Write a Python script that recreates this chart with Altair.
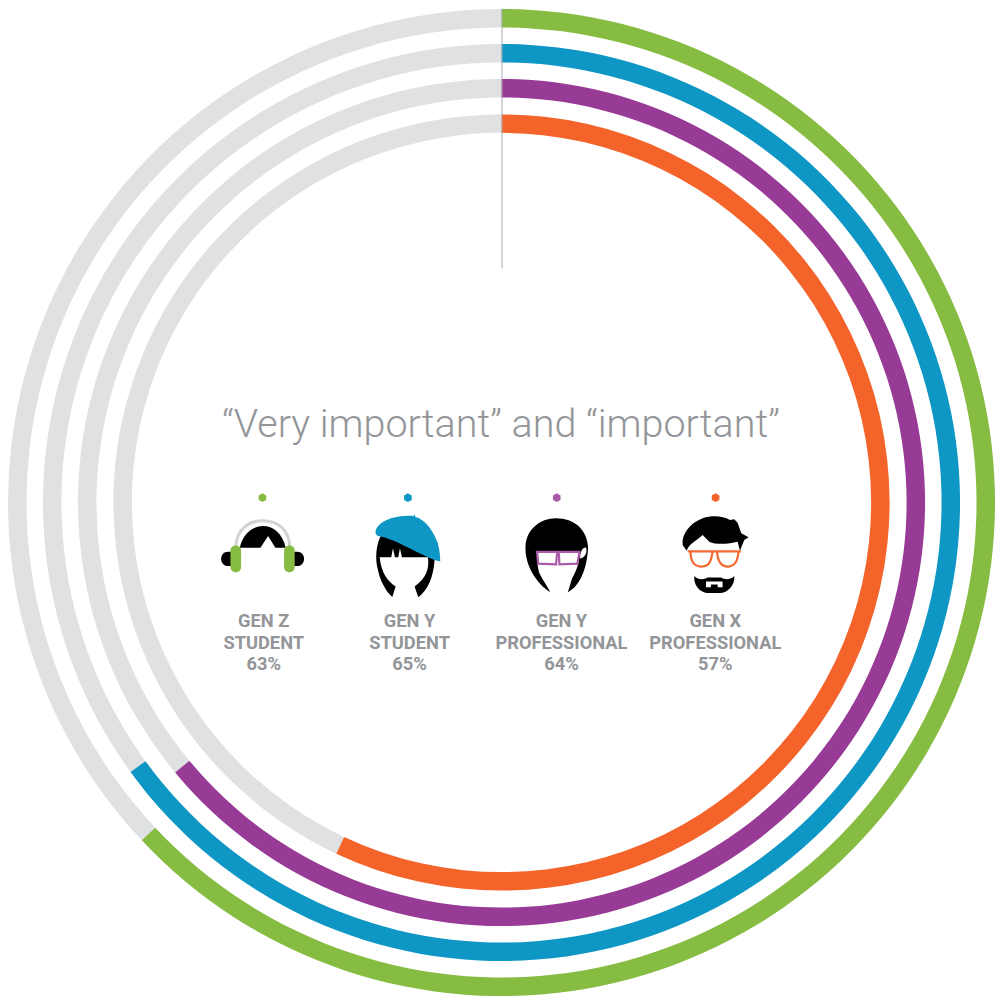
import math
import re
import altair as alt
import pandas as pd

# ---- data ----
groups = ["GEN Z", "GEN Y", "GEN Y", "GEN X"]
roles = ["STUDENT", "STUDENT", "PROFESSIONAL", "PROFESSIONAL"]
shares = [63, 65, 64, 57]
colors = ["#86BC42", "#0E97C4", "#983B96", "#F4632A"]
title_text = "\u201cVery important\u201d and \u201cimportant\u201d"

# ---- layout ----
W, H = 988, 988
MARGIN = 8
CX, CY = 502 - MARGIN, 502.5 - MARGIN
TRACK = "#E0E1E3"
TEXT = "#939598"
outer_radii = [494, 459, 424, 388.5]
RING = 18.5
col_x = [264, 410, 562, 716]
dot_x = [262.7, 408.3, 557.3, 716.3]

theta_scale = alt.Scale(domain=[0, 100], range=[0, 2 * math.pi])
layers = []

for share, color, r in zip(shares, colors, outer_radii):
    df = pd.DataFrame({"start": [share, 0], "end": [100, share], "part": ["rest", "share"]})
    layers.append(
        alt.Chart(df)
        .mark_arc(radius=r, radius2=r - RING, stroke=None)
        .encode(
            x=alt.value(CX),
            y=alt.value(CY),
            theta=alt.Theta("start:Q", scale=theta_scale),
            theta2="end:Q",
            color=alt.Color("part:N", scale=alt.Scale(domain=["rest", "share"], range=[TRACK, color]), legend=None),
        )
    )

# thin start line
layers.append(
    alt.Chart(pd.DataFrame({"a": [0]}))
    .mark_rule(color="#ABADB0", strokeWidth=1)
    .encode(x=alt.value(CX + 0.5), y=alt.value(0), y2=alt.value(268 - MARGIN))
)

# title
layers.append(
    alt.Chart(pd.DataFrame({"t": [title_text]}))
    .mark_text(font="Roboto", fontWeight=300, fontSize=39.5, color=TEXT, align="center", baseline="alphabetic")
    .encode(x=alt.value(501.5 - MARGIN), y=alt.value(437 - MARGIN), text="t:N")
)

# labels
labels = pd.DataFrame({"g": groups, "r": roles, "p": [f"{s}%" for s in shares], "x": col_x})
xs = alt.Scale(domain=[0, W], range=[0, W])
for field, base in (("g", 627), ("r", 649), ("p", 670)):
    layers.append(
        alt.Chart(labels)
        .mark_text(font="Roboto", fontWeight=700, fontSize=18.3, color=TEXT, align="center", baseline="alphabetic")
        .encode(
            x=alt.X("xp:Q", scale=xs, axis=None),
            y=alt.value(base - MARGIN),
            text=f"{field}:N",
        )
        .transform_calculate(xp=f"datum.x - {MARGIN}")
    )


def shift(path, ox, oy):
    """Icon outlines are noted in 3x crop coordinates; turn them into plot pixels."""
    out, i = "", 0
    for tok in re.findall(r"[A-Za-z]|-?[\d.]+", path):
        if tok.isalpha():
            out = out.rstrip() + tok
        else:
            v = float(tok) / 3 + (ox if i % 2 == 0 else oy) - MARGIN
            out += f"{v:.2f} "
            i += 1
    return out.strip()


def icon(path, ox, oy, fill=None, stroke=None, sw=1.5):
    kw = dict(shape=shift(path, ox, oy), size=4, opacity=1)
    if fill:
        kw.update(filled=True, fill=fill, stroke=None)
    else:
        kw.update(filled=False, stroke=stroke, strokeWidth=sw)
    return alt.Chart(pd.DataFrame({"a": [0]})).mark_point(**kw).encode(x=alt.value(0.01), y=alt.value(0.01))


# hexagon markers, one per group
for c, x in zip(["#86BC42", "#0E97C4", "#A65CA9", "#F4632A"], dot_x):
    hexagon = "M0 -4.4 L3.8 -2.2 L3.8 2.2 L0 4.4 L-3.8 2.2 L-3.8 -2.2 Z"
    layers.append(
        alt.Chart(pd.DataFrame({"a": [0]}))
        .mark_point(shape=hexagon, size=4, filled=True, fill=c, stroke=None, opacity=1)
        .encode(x=alt.value(x - MARGIN), y=alt.value(497.7 - MARGIN))
    )

BLACK = "#000000"
# Gen Z: headphones
O1 = (210, 480)
layers += [
    icon("M55 215 C27 215 27 258 55 258 L78 258 L78 215 Z", *O1, fill=BLACK),
    icon("M262 215 C290 215 290 258 262 258 L240 258 L240 215 Z", *O1, fill=BLACK),
    icon("M90 203 C100 160 130 138 160 138 C190 138 218 160 228 203 L197 203 L175 168 L152 203 Z", *O1, fill=BLACK),
    icon("M78 200 C80 150 115 122 160 122 C205 122 238 150 240 200", *O1, stroke="#D1D3D4", sw=3),
    icon("M62 212 C62 191 94 191 94 212 L94 261 C94 282 62 282 62 261 Z", *O1, fill="#86BC42"),
    icon("M223 212 C223 191 255 191 255 212 L255 261 C255 282 223 282 223 261 Z", *O1, fill="#86BC42"),
]
# Gen Y student: beret
layers += [
    icon(
        "M515 165 C500 190 495 235 505 270 C512 305 530 335 548 351 L558 320 C535 305 515 280 510 232 "
        "L545 232 L550 205 L556 232 L566 232 L571 205 L577 232 L655 232 C660 265 650 295 615 320 L626 352 "
        "C655 330 672 290 675 240 L675 200 L640 170 Z",
        *O1, fill=BLACK,
    ),
    icon(
        "M498 152 C510 120 560 105 612 108 L614 102 L617 110 C650 120 672 155 685 190 C690 210 692 230 692 245 "
        "C670 240 640 225 600 205 C570 190 535 172 505 168 C498 165 497 158 498 152 Z",
        *O1, fill="#0E97C4",
    ),
]
# Gen Y professional
O2 = (490, 480)
layers += [
    icon(
        "M200 115 C150 115 110 150 108 200 C106 255 140 310 183 337 C172 318 160 300 150 280 "
        "C145 265 143 245 143 215 L268 215 C272 245 262 270 248 295 C243 310 240 325 235 337 "
        "C270 320 292 270 296 205 C295 150 255 115 200 115 Z",
        *O2, fill=BLACK,
    ),
    icon("M272 232 C272 215 280 202 290 203 C294 215 288 232 272 236 Z", *O2, fill="#FFFFFF"),
    icon(
        "M139 216 L273 216 M143 217 L146 251 L200 253 L203 217 M208 217 L210 253 L264 251 L270 217",
        *O2, stroke="#A95AA8", sw=2.2,
    ),
]
# Gen X professional
layers += [
    icon(
        "M580 195 C576 165 600 130 640 115 C670 105 700 108 722 120 L735 118 L745 128 L756 160 L778 172 L765 180 "
        "L752 212 L745 185 C720 192 680 195 660 185 L640 165 C625 180 600 190 592 212 Z",
        *O2, fill=BLACK,
    ),
    icon(
        "M595 214 L755 214 M603 215 C605 245 612 258 636 260 C662 260 666 240 670 215 M683 215 C685 240 692 260 716 260 "
        "C740 258 745 240 748 215",
        *O2, stroke="#F4692F", sw=2.2,
    ),
    icon(
        "M615 288 C625 298 640 302 655 293 L695 293 C710 302 725 298 735 288 C738 315 715 338 695 339 L652 339 "
        "C630 335 612 315 615 288 Z M650 305 L650 322 L665 322 L665 314 L685 314 L685 322 L700 322 L700 305 Z",
        *O2, fill=BLACK,
    ),
]

chart = (
    alt.layer(*layers)
    .resolve_scale(color="independent", theta="shared")
    .properties(width=W, height=H, padding=0, autosize=alt.AutoSizeParams(type="none"))
    .configure(background="#FFFFFF", view=alt.ViewConfig(stroke=None))
)

chart.save("out.html", embed_options={"renderer": "svg", "actions": False})
